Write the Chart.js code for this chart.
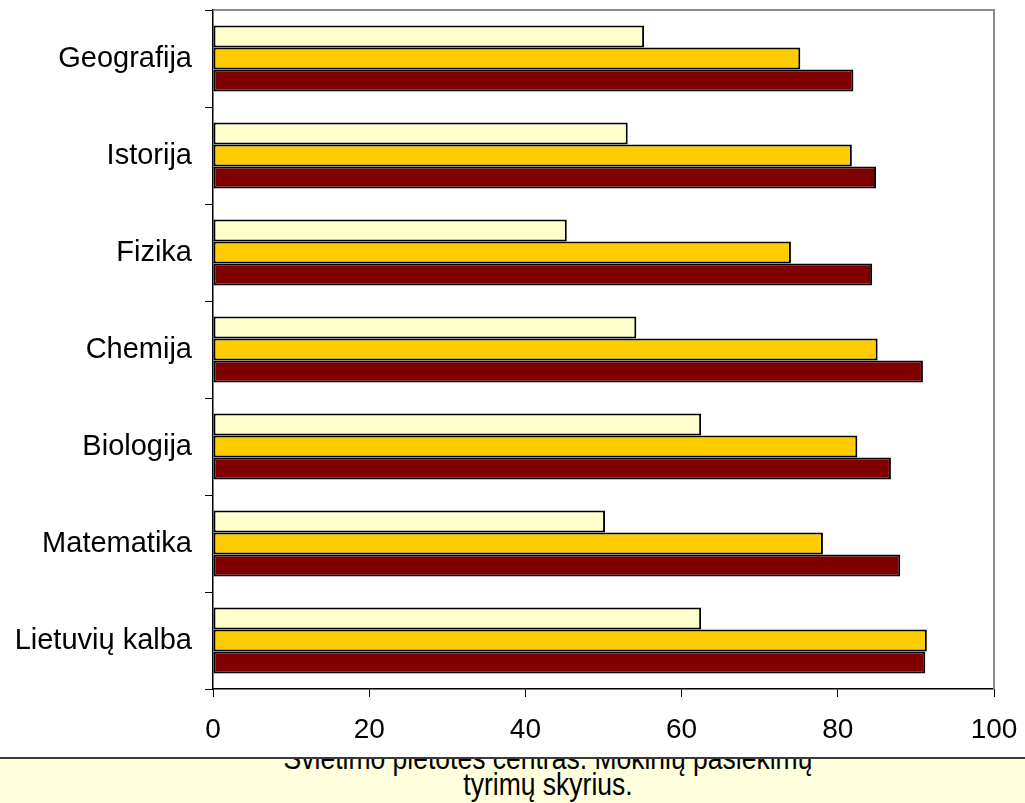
<!DOCTYPE html>
<html lang="lt">
<head>
<meta charset="UTF-8">
<title>Rezultatai pagal dalykus</title>
<script src="https://cdn.jsdelivr.net/npm/chart.js@4.4.1/dist/chart.umd.min.js"></script>
<style>
    html, body {
        margin: 0;
        padding: 0;
        background: #ffffff;
        width: 1025px;
        height: 803px;
        overflow: hidden;
    }
    #chartWrap {
        position: absolute;
        left: 0;
        top: 0;
        width: 1025px;
        height: 758px;
    }
    #sourceNote {
        position: absolute;
        left: 0;
        top: 757px;
        width: 1025px;
        height: 46px;
        background: #FFFFDD;
        border-top: 2px solid #3a3a3a;
        overflow: hidden;
    }
    #sourceNote .txt {
        position: absolute;
        left: 0;
        top: -14px;
        width: 1096px;
        text-align: center;
        font-family: 'Liberation Sans', Arial, sans-serif;
        font-size: 26.5px;
        line-height: 22px;
        color: #000000;
        white-space: nowrap;
        transform: scaleY(1.2);
        transform-origin: top left;
    }
</style>
</head>
<body>
<div id="chartWrap">
    <canvas id="subjectsChart" width="1025" height="758"></canvas>
</div>
<div id="sourceNote">
    <div class="txt">Švietimo plėtotės centras. Mokinių pasiekimų<br>tyrimų skyrius.</div>
</div>

<script>
// Dalykai (iš viršaus į apačią)
const subjects = ['Geografija', 'Istorija', 'Fizika', 'Chemija', 'Biologija', 'Matematika', 'Lietuvių kalba'];

// Trys serijos - reikšmės nuskaitytos nuo paveikslo
const seriesLight = [55.2, 53.1, 45.3, 54.2, 62.5, 50.2, 62.5];
const seriesGold  = [75.2, 81.8, 74.0, 85.1, 82.5, 78.1, 91.4];
const seriesRed   = [82.0, 84.9, 84.4, 90.9, 86.8, 88.0, 91.2];

// X ašies žymos
const xTicks = [0, 20, 40, 60, 80, 100];

document.addEventListener('DOMContentLoaded', function() {
    Chart.defaults.font.family = "'Liberation Sans', Arial, sans-serif";
    Chart.defaults.color = '#000000';
    createSubjectsChart();
});

// Pilkas braižymo srities rėmelis (viršus ir dešinė), kaip Excel
const plotBorder = {
    id: 'plotBorder',
    beforeDatasetsDraw(chart) {
        const a = chart.chartArea;
        const ctx = chart.ctx;
        ctx.save();
        ctx.strokeStyle = '#8c8c8c';
        ctx.lineWidth = 2;
        ctx.beginPath();
        ctx.moveTo(a.left, a.top);
        ctx.lineTo(a.right, a.top);
        ctx.lineTo(a.right, a.bottom);
        ctx.stroke();
        ctx.restore();
    }
};

function createSubjectsChart() {
    const ctx = document.getElementById('subjectsChart');
    if (!ctx) return;

    const barStyle = {
        borderColor: '#000000',
        borderWidth: 2,
        borderSkipped: false,
        categoryPercentage: 0.68,
        barPercentage: 1.0
    };

    ctx.chart = new Chart(ctx.getContext('2d'), {
        type: 'bar',
        data: {
            labels: subjects,
            datasets: [
                Object.assign({ label: 'A', data: seriesLight, backgroundColor: '#FFFFCC' }, barStyle),
                Object.assign({ label: 'B', data: seriesGold, backgroundColor: '#FFCC00' }, barStyle),
                Object.assign({ label: 'C', data: seriesRed, backgroundColor: '#800000' }, barStyle)
            ]
        },
        options: {
            indexAxis: 'y',
            responsive: false,
            animation: false,
            layout: {
                padding: { top: 10, right: 31, left: 0, bottom: 0 }
            },
            plugins: {
                legend: { display: false },
                tooltip: { enabled: false }
            },
            scales: {
                x: {
                    min: 0,
                    max: 100,
                    afterBuildTicks: function(scale) {
                        scale.ticks = xTicks.map(v => ({ value: v }));
                    },
                    afterFit: function(scale) {
                        scale.height = 69;
                        scale.paddingLeft = 0;
                        scale.paddingRight = 0;
                    },
                    border: { color: '#000000', width: 1.5 },
                    grid: {
                        drawOnChartArea: false,
                        drawTicks: true,
                        tickLength: 8,
                        color: '#000000'
                    },
                    ticks: {
                        padding: 16,
                        maxRotation: 0,
                        font: { size: 28 },
                        color: '#000000'
                    }
                },
                y: {
                    afterFit: function(scale) {
                        scale.width = 213;
                        scale.paddingTop = 0;
                        scale.paddingBottom = 0;
                    },
                    border: { color: '#000000', width: 1.5 },
                    grid: {
                        offset: true,
                        drawOnChartArea: false,
                        drawTicks: true,
                        tickLength: 8,
                        color: '#000000'
                    },
                    ticks: {
                        padding: 13,
                        font: { size: 29 },
                        color: '#000000'
                    }
                }
            }
        },
        plugins: [plotBorder]
    });
}
</script>
</body>
</html>
